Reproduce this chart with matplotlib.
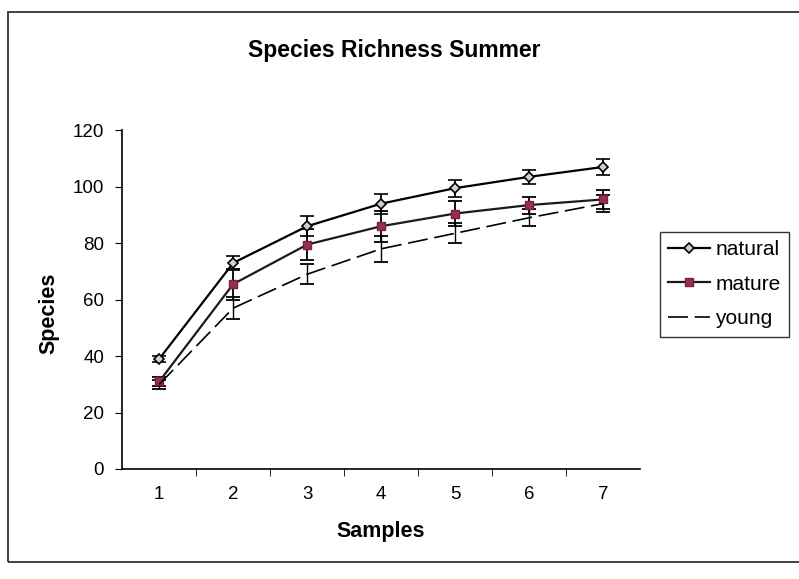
import numpy as np
import matplotlib.pyplot as plt
from matplotlib.patches import Rectangle
from matplotlib.lines import Line2D

plt.rcParams['font.family'] = ['Liberation Sans', 'DejaVu Sans']

samples = [1, 2, 3, 4, 5, 6, 7]
natural = [39, 73, 86, 94, 99.5, 103.5, 107]
natural_err = [1.0, 2.5, 3.5, 3.5, 3.0, 2.5, 3.0]
mature = [31, 65.5, 79.5, 86, 90.5, 93.5, 95.5]
mature_err = [1.5, 5.5, 5.5, 5.5, 4.5, 3.0, 3.5]
young = [30, 57, 69, 78, 83.5, 89, 94]
young_err = [1.5, 4.0, 3.5, 4.5, 3.5, 3.0, 3.0]

fig = plt.figure(figsize=(7.99, 5.79), dpi=100)
ax = fig.add_axes([0.153, 0.19, 0.648, 0.585])

nat_style = dict(color='black', lw=1.6, marker='D', ms=5, mfc='#d0d0d0',
                 mec='black', mew=1.2)
mat_style = dict(color='#1a1a1a', lw=1.6, marker='s', ms=6, mfc='#9b2d4f',
                 mec='#7a1f3c')
yng_style = dict(color='black', lw=1.2, ls=(0, (12, 4)))

ax.errorbar(samples, natural, yerr=natural_err, capsize=5, elinewidth=1.3,
            capthick=1.3, **nat_style)
ax.errorbar(samples, mature, yerr=mature_err, ecolor='black', capsize=5,
            elinewidth=1.3, capthick=1.3, **mat_style)
ax.errorbar(samples, young, yerr=young_err, capsize=5, elinewidth=1.0,
            capthick=1.3, **yng_style)

ax.set_xlim(0.5, 7.5)
ax.set_ylim(0, 120)
ax.set_yticks(np.arange(0, 121, 20))
ax.set_xticks(samples)
ax.set_xticks(np.arange(1.5, 7.5, 1), minor=True)
ax.tick_params(axis='x', which='major', length=0, labelsize=13.5, pad=12)
ax.tick_params(axis='x', which='minor', length=5, direction='out')
ax.tick_params(axis='y', length=5, direction='out', labelsize=13.5, pad=8)
ax.spines['top'].set_visible(False)
ax.spines['right'].set_visible(False)
for s in ('left', 'bottom'):
    ax.spines[s].set_linewidth(1.2)

ax.set_xlabel('Samples', fontsize=15.5, fontweight='bold')
ax.xaxis.set_label_coords(0.5, -0.155)
ax.set_ylabel('Species', fontsize=15.5, fontweight='bold')
ax.yaxis.set_label_coords(-0.122, 0.46)
fig.text(0.494, 0.913, 'Species Richness Summer', ha='center', va='center',
         fontsize=16.5, fontweight='bold')

handles = [Line2D([], [], **nat_style), Line2D([], [], **mat_style),
           Line2D([], [], **yng_style)]
leg = fig.legend(handles, ['natural', 'mature', 'young'], loc='upper left',
                 bbox_to_anchor=(0.826, 0.6), fontsize=15, frameon=True,
                 fancybox=False, edgecolor='black', handlelength=2.0,
                 handletextpad=0.25, borderpad=0.4, labelspacing=0.75,
                 borderaxespad=0)
leg.get_frame().set_linewidth(1.0)

fig.patches.append(Rectangle((0.01, 0.03), 0.995, 0.95, transform=fig.transFigure,
                             fill=False, edgecolor='#333333', lw=1.3))

fig.savefig('out.png', dpi=100)
